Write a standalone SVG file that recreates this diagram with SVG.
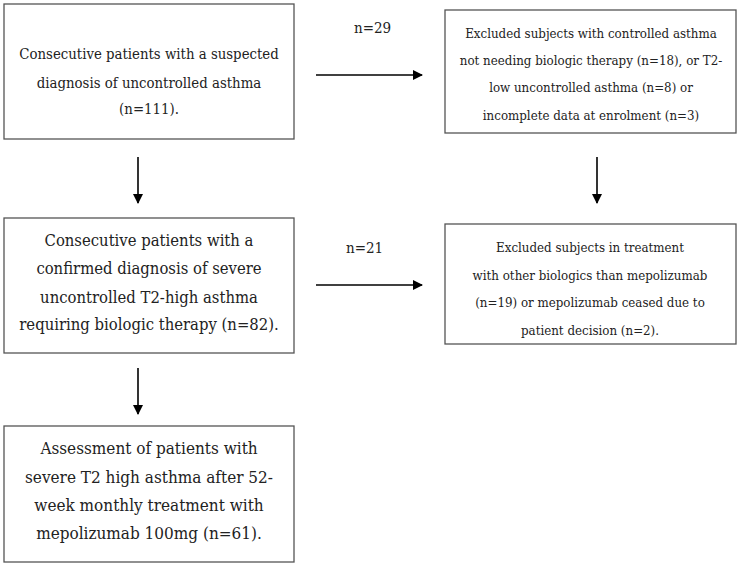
<svg xmlns="http://www.w3.org/2000/svg" width="739" height="567" viewBox="0 0 739 567">
<style>
.box{fill:#fff;stroke:#555;stroke-width:1.3}
text{font-family:'DejaVu Serif Condensed','DejaVu Serif',serif;font-stretch:condensed;fill:#222;text-anchor:middle}
.t1{font-size:14.8px}
.t3{font-size:16.5px}
.t5{font-size:17px}
.tr{font-size:13.2px}
.lbl{font-size:15px;text-anchor:start}
.c{stroke:#000;stroke-width:1.6;fill:none;marker-end:url(#ah)}
</style>
<defs>
<marker id="ah" markerWidth="10" markerHeight="10" refX="9" refY="5" orient="auto" markerUnits="userSpaceOnUse">
<path d="M0,0 L10,5 L0,10 Z" fill="#000"/>
</marker>
</defs>
<rect width="739" height="567" fill="#fff"/>
<g id="connectors">
<line class="c" x1="316" y1="75" x2="422" y2="75"/>
<line class="c" x1="138" y1="157" x2="138" y2="203"/>
<line class="c" x1="597" y1="157" x2="597" y2="203"/>
<line class="c" x1="316" y1="285" x2="422" y2="285"/>
<line class="c" x1="138" y1="368" x2="138" y2="414"/>
<text class="lbl" x="354" y="33">n=29</text>
<text class="lbl" x="346" y="253">n=21</text>
</g>
<g id="n1">
<rect class="box" x="4" y="4" width="290" height="135"/>
<text class="t1" x="149" y="59">Consecutive patients with a suspected</text>
<text class="t1" x="149" y="88">diagnosis of uncontrolled asthma</text>
<text class="t1" x="149" y="114">(n=111).</text>
</g>
<g id="n2">
<rect class="box" x="445" y="10" width="291" height="123"/>
<text class="tr" x="591" y="38">Excluded subjects with controlled asthma</text>
<text class="tr" x="591" y="65">not needing biologic therapy (n=18), or T2-</text>
<text class="tr" x="591" y="92">low uncontrolled asthma (n=8) or</text>
<text class="tr" x="591" y="120">incomplete data at enrolment (n=3)</text>
</g>
<g id="n3">
<rect class="box" x="4" y="218" width="290" height="135"/>
<text class="t3" x="149" y="246">Consecutive patients with a</text>
<text class="t3" x="149" y="274">confirmed diagnosis of severe</text>
<text class="t3" x="149" y="303">uncontrolled T2-high asthma</text>
<text class="t3" x="149" y="330">requiring biologic therapy (n=82).</text>
</g>
<g id="n4">
<rect class="box" x="445" y="224" width="291" height="120"/>
<text class="tr" x="590" y="252">Excluded subjects in treatment</text>
<text class="tr" x="590" y="280">with other biologics than mepolizumab</text>
<text class="tr" x="590" y="307">(n=19) or mepolizumab ceased due to</text>
<text class="tr" x="590" y="335">patient decision (n=2).</text>
</g>
<g id="n5">
<rect class="box" x="4" y="426" width="290" height="136"/>
<text class="t5" x="149" y="454">Assessment of patients with</text>
<text class="t5" x="149" y="483">severe T2 high asthma after 52-</text>
<text class="t5" x="149" y="511">week monthly treatment with</text>
<text class="t5" x="149" y="539">mepolizumab 100mg (n=61).</text>
</g>
</svg>
